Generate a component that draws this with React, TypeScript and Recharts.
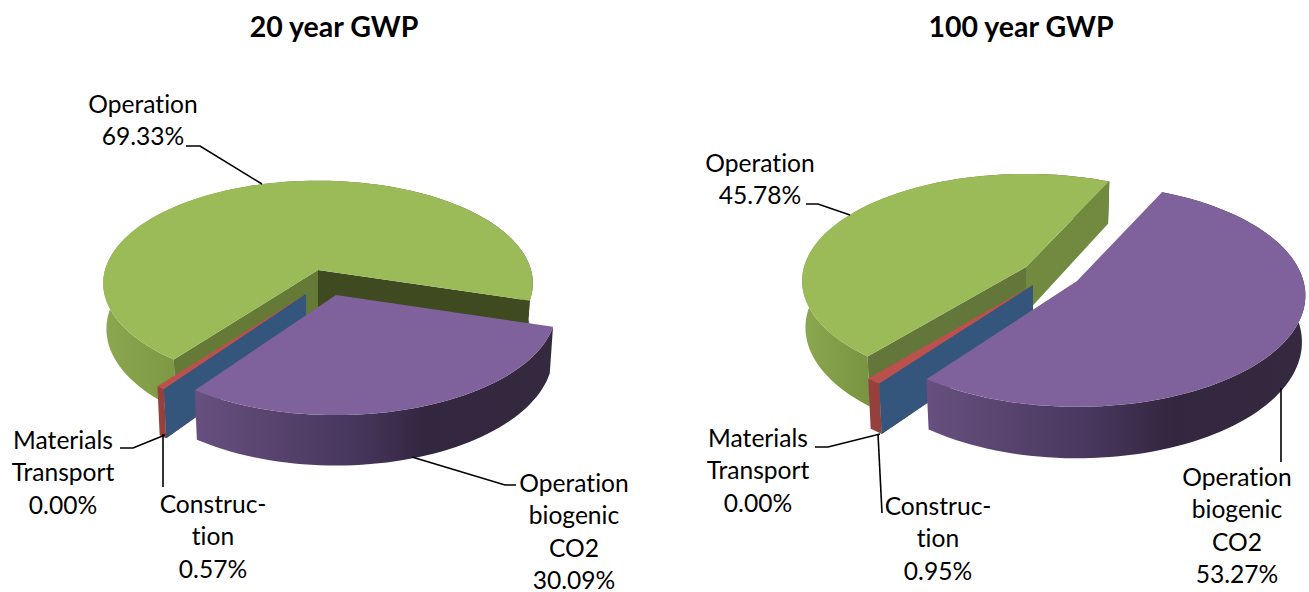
import { PieChart, Pie } from "recharts";

// Values, % of total
const names = ["Operation", "Construction", "Materials Transport", "Operation biogenic CO2"];
const values20 = [69.33, 0.57, 0.0, 30.09];
const values100 = [45.78, 0.95, 0.0, 53.27];

const labelLines = [["Operation"], ["Construc-", "tion"], ["Materials", "Transport"], ["Operation", "biogenic", "CO2"]];

const topColors = ["#9bbb59", "#bb504d", "#34557c", "#7f619c"];
const wallStops = [
  [[0, "#8ba850"], [0.16, "#7d9944"], [1, "#404a20"]],
  [[0, "#96403d"], [1, "#96403d"]],
  [[0, "#34557c"], [1, "#34557c"]],
  [[0, "#67507f"], [0.45, "#47365c"], [0.65, "#33263f"], [1, "#35293f"]],
] as [number, string][][];

const FONT = "Lato, Carlito, sans-serif";
const TILT = 0.474;
const PERSP = 0.13;
const RAD = Math.PI / 180;

type Layout = {
  id: string;
  title: string;
  titleX: number;
  cx: number;
  cy: number;
  radius: number;
  depth: number;
  startAngle: number;
  // dx, dy, x scale, y scale of each slice
  explode: number[][];
  cutColors: string[][];
  labelPos: number[][];
  leaders: number[][][];
};

const layout20: Layout = {
  id: "a",
  title: "20 year GWP",
  titleX: 334,
  cx: 318,
  cy: 270,
  radius: 213,
  depth: 45,
  startAngle: -17,
  explode: [[0, 0, 1, 1], [-12, 24, 1.03, 1.03], [-12, 24, 1.03, 1.03], [18, 25, 1.025, 1.035]],
  cutColors: [["#404a20", "#667a38"], ["#96403d", "#96403d"], ["#34557c", "#34557c"], ["#33263f", "#33263f"]],
  labelPos: [[143, 105], [213, 505], [63, 441], [574, 484]],
  leaders: [
    [[186, 146], [200, 146], [262, 184]],
    [[163, 434], [163, 487]],
    [[120, 448], [133, 448], [165, 435]],
    [[412, 457], [505, 485], [516, 485]],
  ],
};

const layout100: Layout = {
  id: "b",
  title: "100 year GWP",
  titleX: 1021,
  cx: 1026,
  cy: 267,
  radius: 222,
  depth: 46,
  startAngle: 65.2,
  explode: [[0, 0, 1, 1], [7, 18, 1.04, 1.045], [7, 18, 1.04, 1.045], [51, 14, 1.02, 1.04]],
  cutColors: [["#728a40", "#64773a"], ["#96403d", "#96403d"], ["#34557c", "#34557c"], ["#33263f", "#33263f"]],
  labelPos: [[760, 164], [938, 507], [758, 439], [1237, 478]],
  leaders: [
    [[806, 204], [818, 204], [850, 215]],
    [[878, 434], [882, 513]],
    [[815, 447], [828, 447], [880, 434]],
    [[1281, 388], [1281, 462]],
  ],
};

// flatten a pie angle onto the tilted plate, nearer points get bigger
const project = (lay: Layout, angle: number, r: number) => {
  const u = Math.cos(angle * RAD) * r;
  const v = -Math.sin(angle * RAD) * r;
  const s = 1 / (1 - PERSP * v);
  return { x: lay.radius * u * s, y: lay.radius * TILT * v * s, s };
};

const Slice3D = (props: any, lay: Layout, index: number) => {
  const { startAngle, endAngle } = props;
  const [dx, dy, sx, sy] = lay.explode[index];
  const ox = lay.cx + dx;
  const oy = lay.cy + dy;
  const top = (a: number, r = 1) => {
    const p = project(lay, a, r);
    return [ox + p.x * sx, oy + p.y * sy];
  };
  const bottom = (a: number, r = 1) => {
    const p = project(lay, a, r);
    return [ox + p.x * sx * 0.985, oy + p.y * sy + lay.depth * (1 + (p.s - 1) * 0.8)];
  };
  const steps = Math.max(1, Math.ceil(Math.abs(endAngle - startAngle) / 2));
  const angles = Array.from({ length: steps + 1 }, (_, i) => startAngle + ((endAngle - startAngle) * i) / steps);
  const rimTop = angles.map((a) => top(a));
  const rimBottom = angles.map((a) => bottom(a));
  const xs = [...rimTop, ...rimBottom].map((p) => p[0]);
  const minX = Math.min(...xs);
  const maxX = Math.max(...xs);
  const poly = (pts: number[][]) => pts.map((p) => p.join(",")).join(" ");
  const gradId = `wall-${lay.id}-${index}`;
  const centerTop = top(0, 0);
  const centerBottom = bottom(0, 0);
  const startFaces = Math.cos(startAngle * RAD) > 0;
  const endFaces = -Math.cos(endAngle * RAD) > 0;
  const rim = [...rimTop, ...[...rimBottom].reverse()];
  return (
    <g>
      <defs>
        <linearGradient id={gradId} gradientUnits="userSpaceOnUse" x1={minX} x2={maxX} y1={0} y2={0}>
          {wallStops[index].map(([o, c]) => (
            <stop key={o} offset={o} stopColor={c} />
          ))}
        </linearGradient>
      </defs>
      <polygon points={poly(rim)} fill={`url(#${gradId})`} />
      {startFaces && (
        <polygon
          points={poly([centerTop, top(startAngle), bottom(startAngle), centerBottom])}
          fill={lay.cutColors[index][0]}
        />
      )}
      {endFaces && (
        <polygon
          points={poly([centerTop, top(endAngle), bottom(endAngle), centerBottom])}
          fill={lay.cutColors[index][1]}
        />
      )}
      {endAngle !== startAngle && <polygon points={poly([centerTop, ...rimTop])} fill={topColors[index]} />}
    </g>
  );
};

const SliceLabel = (props: any, lay: Layout, values: number[]) => {
  const i = props.index;
  const [x, y] = lay.labelPos[i];
  const lines = [...labelLines[i], `${values[i].toFixed(2)}%`];
  return (
    <g key={i}>
      <polyline
        points={lay.leaders[i].map((p) => p.join(",")).join(" ")}
        fill="none"
        stroke="#000"
        strokeWidth={1.6}
      />
      {lines.map((line, n) => (
        <text
          key={line}
          x={x}
          y={y - 2 + n * 32.6}
          textAnchor="middle"
          dominantBaseline="central"
          fontFamily={FONT}
          fontSize={24.6}
          fill="#000"
          style={{ fontVariantLigatures: "none" }}
        >
          {line}
        </text>
      ))}
    </g>
  );
};

const pieData = (values: number[]) => names.map((name, i) => ({ name, value: values[i] }));

const Plate = ({ lay, values }: { lay: Layout; values: number[] }) => (
  <>
    <text x={lay.titleX} y={37} textAnchor="middle" fontFamily={FONT} fontWeight={700} fontSize={28.5} fill="#000">
      {lay.title}
    </text>
    <Pie
      data={pieData(values)}
      dataKey="value"
      nameKey="name"
      cx={lay.cx}
      cy={lay.cy}
      innerRadius={0}
      outerRadius={lay.radius}
      startAngle={lay.startAngle}
      endAngle={lay.startAngle + 360}
      stroke="none"
      isAnimationActive={false}
      labelLine={false}
      label={(p: any) => SliceLabel(p, lay, values)}
      shape={(p: any) => Slice3D(p, lay, p.index)}
    />
  </>
);

export default function App() {
  return (
    <div style={{ position: "absolute", left: 0, top: 0, width: 1309, height: 592 }}>
      <div style={{ position: "absolute", left: 0, top: 0 }}>
        <PieChart width={1309} height={592} margin={{ top: 0, right: 0, bottom: 0, left: 0 }}>
          {Plate({ lay: layout20, values: values20 })}
        </PieChart>
      </div>
      <div style={{ position: "absolute", left: 0, top: 0 }}>
        <PieChart width={1309} height={592} margin={{ top: 0, right: 0, bottom: 0, left: 0 }}>
          {Plate({ lay: layout100, values: values100 })}
        </PieChart>
      </div>
    </div>
  );
}
